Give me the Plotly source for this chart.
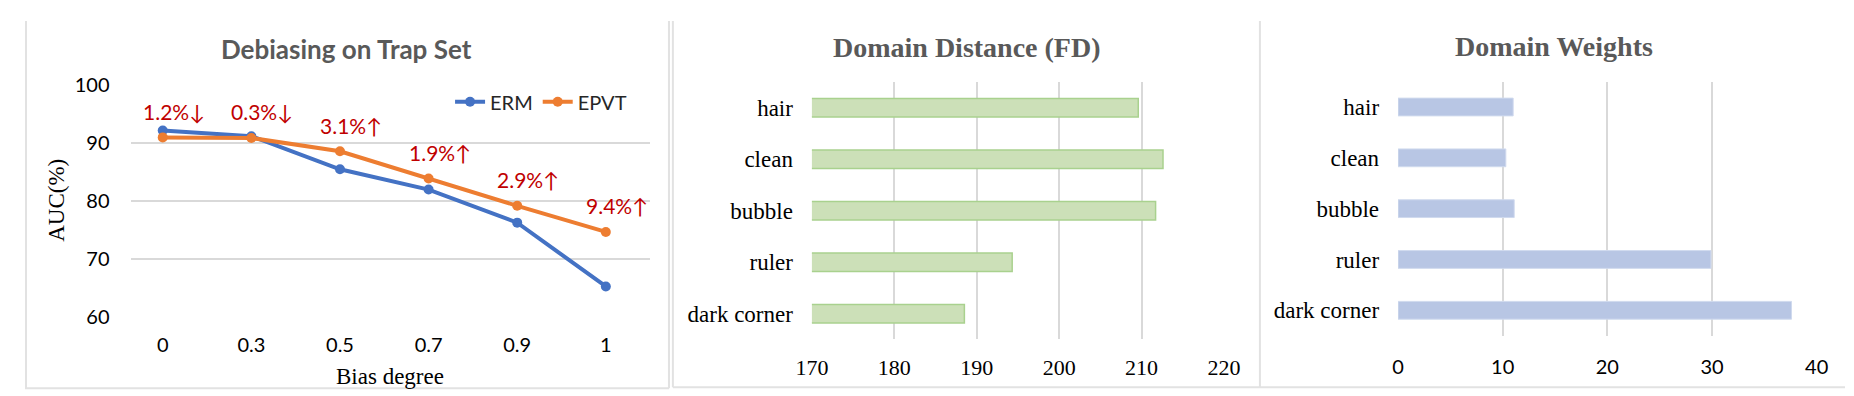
import plotly.graph_objects as go

# ---- data ----
bias_degrees = ["0", "0.3", "0.5", "0.7", "0.9", "1"]
erm_auc = [92.1, 91.1, 85.4, 81.9, 76.2, 65.2]
epvt_auc = [90.9, 90.8, 88.5, 83.8, 79.1, 74.6]

domains = ["hair", "clean", "bubble", "ruler", "dark corner"]
domain_distance = [209.6, 212.6, 211.7, 194.3, 188.5]
domain_weights = [11.0, 10.3, 11.1, 29.9, 37.6]

W, H = 1854, 396
SANS = "Lato, 'Open Sans', sans-serif"
SERIF = "'Liberation Serif', 'Times New Roman', serif"
GRID = "#D9D9D9"
TITLE_C = "#595959"


def px_x(x):
    return x / W


def px_y(y):
    return 1 - y / H


fig = go.Figure()

# ---- panel 1: line chart ----
fig.add_trace(go.Scatter(
    x=bias_degrees, y=erm_auc, name="ERM", mode="lines+markers",
    line=dict(color="#4472C4", width=4), marker=dict(size=10, color="#4472C4"),
    xaxis="x", yaxis="y"))
fig.add_trace(go.Scatter(
    x=bias_degrees, y=epvt_auc, name="EPVT", mode="lines+markers",
    line=dict(color="#ED7D31", width=4), marker=dict(size=10, color="#ED7D31"),
    xaxis="x", yaxis="y"))

# ---- panel 2: domain distance ----
fig.add_trace(go.Bar(
    y=domains, x=domain_distance, orientation="h",
    marker=dict(color="#CCE0B8", line=dict(color="#A9D18E", width=1.5)),
    width=0.36, showlegend=False, xaxis="x2", yaxis="y2"))

# ---- panel 3: domain weights ----
fig.add_trace(go.Bar(
    y=domains, x=domain_weights, orientation="h",
    marker=dict(color="#B8C6E4", line=dict(color="#D0DAEE", width=1)),
    width=0.35, showlegend=False, xaxis="x3", yaxis="y3"))

annotations = []
# gain labels computed from data (x given as category index)
for i, (e, p) in enumerate(zip(erm_auc, epvt_auc)):
    d = round(p - e, 1)
    label = f"{abs(d):.1f}%" + ("↑" if d > 0 else "↓")
    annotations.append(dict(
        x=i, y=p, xref="x", yref="y", text=label, showarrow=False,
        xshift=11, yshift=26, font=dict(family=SANS, size=21, color="#C00000")))

# titles
annotations += [
    dict(x=px_x(328), y=px_y(30), xref="paper", yref="paper", text="<b>Debiasing on Trap Set</b>",
         showarrow=False, font=dict(family=SANS, size=26, color=TITLE_C), xanchor="center", yanchor="middle"),
    dict(x=px_x(960), y=px_y(28), xref="paper", yref="paper", text="<b>Domain Distance (FD)</b>",
         showarrow=False, font=dict(family=SERIF, size=28, color=TITLE_C), xanchor="center", yanchor="middle"),
    dict(x=px_x(1558), y=px_y(27), xref="paper", yref="paper", text="<b>Domain Weights</b>",
         showarrow=False, font=dict(family=SERIF, size=28, color=TITLE_C), xanchor="center", yanchor="middle"),
    dict(x=px_x(32), y=px_y(191), xref="paper", yref="paper", text="AUC(%)", textangle=-90,
         showarrow=False, font=dict(family=SERIF, size=23, color="black"), xanchor="center", yanchor="middle"),
    dict(x=px_x(372), y=px_y(378), xref="paper", yref="paper", text="Bias degree",
         showarrow=False, font=dict(family=SERIF, size=23, color="black"), xanchor="center", yanchor="middle"),
]

# panel borders
border = dict(color="#E2E2E2", width=2)
shapes = [
    dict(type="line", xref="paper", yref="paper", x0=px_x(1), x1=px_x(1), y0=px_y(0), y1=px_y(391), line=border),
    dict(type="line", xref="paper", yref="paper", x0=px_x(0), x1=px_x(656), y0=px_y(391), y1=px_y(391), line=border),
    dict(type="line", xref="paper", yref="paper", x0=px_x(656), x1=px_x(656), y0=px_y(0), y1=px_y(391), line=border),
    dict(type="line", xref="paper", yref="paper", x0=px_x(660), x1=px_x(660), y0=px_y(0), y1=px_y(390), line=border),
    dict(type="line", xref="paper", yref="paper", x0=px_x(660), x1=px_x(1258), y0=px_y(390), y1=px_y(390), line=border),
    dict(type="line", xref="paper", yref="paper", x0=px_x(1258), x1=px_x(1258), y0=px_y(0), y1=px_y(390), line=border),
    dict(type="line", xref="paper", yref="paper", x0=px_x(1258), x1=px_x(1854), y0=px_y(390), y1=px_y(390), line=border),
]

fig.update_layout(
    width=W, height=H, margin=dict(l=0, r=0, t=0, b=0),
    paper_bgcolor="white", plot_bgcolor="white",
    annotations=annotations, shapes=shapes,
    legend=dict(orientation="h", x=px_x(433), y=px_y(86), xanchor="left", yanchor="middle",
                font=dict(family=SANS, size=20, color="#262626"), bgcolor="rgba(0,0,0,0)",
                itemwidth=30, traceorder="normal"),
    xaxis=dict(domain=[px_x(107.5), px_x(636.5)], type="category", showgrid=False, zeroline=False,
               showline=False, ticks="", ticklabelstandoff=14,
               tickfont=dict(family=SANS, size=20, color="black"), anchor="y"),
    yaxis=dict(domain=[px_y(314.7), px_y(67.7)], range=[60, 100], dtick=10, showgrid=True,
               gridcolor=GRID, gridwidth=1.5, zeroline=False, showline=False, ticks="",
               ticklabelstandoff=20, tickfont=dict(family=SANS, size=20, color="black"), anchor="x"),
    xaxis2=dict(domain=[px_x(801.6), px_x(1221.4)], range=[170, 220], dtick=10, showgrid=True,
                gridcolor=GRID, gridwidth=1.5, zeroline=False, showline=False, ticks="",
                ticklabelstandoff=13, tickfont=dict(family=SERIF, size=22, color="black"), anchor="y2"),
    yaxis2=dict(domain=[px_y(339), px_y(65)], type="category", autorange="reversed", showgrid=False,
                zeroline=False, showline=False, ticks="", ticklabelstandoff=18,
                tickfont=dict(family=SERIF, size=23, color="black"), anchor="x2"),
    xaxis3=dict(domain=[px_x(1398.7), px_x(1825.1)], range=[0, 40], dtick=10, showgrid=True,
                gridcolor=GRID, gridwidth=1.5, zeroline=False, showline=False, ticks="",
                ticklabelstandoff=17, tickfont=dict(family=SANS, size=20, color="black"), anchor="y3"),
    yaxis3=dict(domain=[px_y(335), px_y(64.5)], type="category", autorange="reversed", showgrid=False,
                zeroline=False, showline=False, ticks="", ticklabelstandoff=18,
                tickfont=dict(family=SERIF, size=23, color="black"), anchor="x3"),
)

fig.write_html("out.html")
